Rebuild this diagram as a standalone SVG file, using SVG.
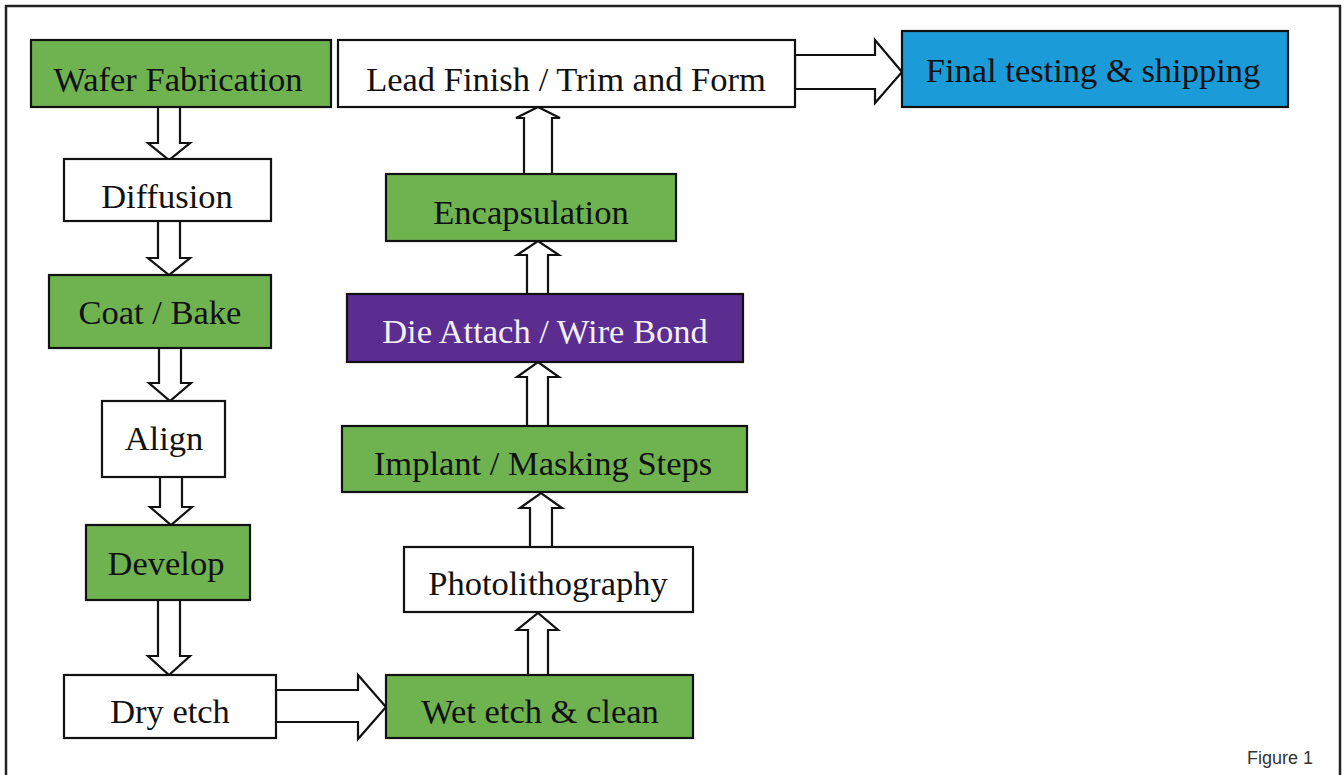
<svg xmlns="http://www.w3.org/2000/svg" width="1344" height="775" viewBox="0 0 1344 775">
  <style>
    .box{stroke:#111;stroke-width:2.2}
    .green{fill:#6fb351}
    .white{fill:#ffffff}
    .blue{fill:#1b9bd7}
    .purple{fill:#5c2d91}
    .lbl{font-family:"Liberation Serif","Times New Roman",serif;font-size:34.5px;fill:#111;text-anchor:middle}
    .lbl-w{fill:#f4f0f8}
    .arrow{fill:#ffffff;stroke:#111;stroke-width:2.2;stroke-linejoin:miter}
    .cap{font-family:"Liberation Sans",Arial,sans-serif;font-size:18px;fill:#333;text-anchor:end}
  </style>
  <rect x="0" y="0" width="1344" height="775" fill="#ffffff"/>
  <rect id="frame" x="6" y="6" width="1334" height="820" fill="none" stroke="#222" stroke-width="2.5"/>

  <g id="connectors">
    <!-- left column, downward -->
    <polygon class="arrow" points="158,107 180,107 180,143 190,143 169,160 148,143 158,143 158,107"/>
    <polygon class="arrow" points="158,221 180,221 180,258 190,258 169,275 148,258 158,258 158,221"/>
    <polygon class="arrow" points="159,348 181,348 181,383 191,383 170,401 149,383 159,383 159,348"/>
    <polygon class="arrow" points="160,477 182,477 182,507 192,507 171,525 150,507 160,507 160,477"/>
    <polygon class="arrow" points="158,600 180,600 180,656 190,656 169,675 148,656 158,656 158,600"/>
    <!-- Dry etch -> Wet etch -->
    <polygon class="arrow" points="276,690 358,690 358,675 386,707 358,739 358,722 276,722 276,690"/>
    <!-- middle column, upward -->
    <polygon class="arrow" points="528,675 548,675 548,630 558,630 538,613 517,630 528,630 528,675"/>
    <polygon class="arrow" points="530,547 552,547 552,508 562,508 541,493 520,508 530,508 530,547"/>
    <polygon class="arrow" points="527,426 548,426 548,377 559,377 538,362 517,377 527,377 527,426"/>
    <polygon class="arrow" points="527,294 548,294 548,255 559,255 538,241 517,255 527,255 527,294"/>
    <polygon class="arrow" points="524,174 552,174 552,118 560,118 538,107 516,118 524,118 524,174"/>
    <!-- Lead finish -> Final testing -->
    <polygon class="arrow" points="795,55 875,55 875,40 902,72 875,103 875,89 795,89 795,55"/>
  </g>

  <g id="n-wafer">
    <rect class="box green" x="31" y="40" width="300" height="67"/>
    <text class="lbl" x="178" y="91">Wafer Fabrication</text>
  </g>
  <g id="n-lead">
    <rect class="box white" x="338" y="40" width="457" height="67"/>
    <text class="lbl" x="566" y="91">Lead Finish / Trim and Form</text>
  </g>
  <g id="n-final">
    <rect class="box blue" x="902" y="31" width="386" height="76"/>
    <text class="lbl" x="1093" y="82">Final testing &amp; shipping</text>
  </g>
  <g id="n-diffusion">
    <rect class="box white" x="64" y="159" width="207" height="62"/>
    <text class="lbl" x="167" y="208">Diffusion</text>
  </g>
  <g id="n-encapsulation">
    <rect class="box green" x="386" y="174" width="290" height="67"/>
    <text class="lbl" x="531" y="224">Encapsulation</text>
  </g>
  <g id="n-coat">
    <rect class="box green" x="49" y="275" width="222" height="73"/>
    <text class="lbl" x="160" y="324">Coat / Bake</text>
  </g>
  <g id="n-die">
    <rect class="box purple" x="347" y="294" width="396" height="68"/>
    <text class="lbl lbl-w" x="545" y="343">Die Attach / Wire Bond</text>
  </g>
  <g id="n-align">
    <rect class="box white" x="102" y="401" width="123" height="76"/>
    <text class="lbl" x="164" y="450">Align</text>
  </g>
  <g id="n-implant">
    <rect class="box green" x="342" y="426" width="405" height="66"/>
    <text class="lbl" x="543" y="475">Implant / Masking Steps</text>
  </g>
  <g id="n-develop">
    <rect class="box green" x="86" y="525" width="164" height="75"/>
    <text class="lbl" x="166" y="575">Develop</text>
  </g>
  <g id="n-photo">
    <rect class="box white" x="404" y="547" width="289" height="65"/>
    <text class="lbl" x="548" y="595">Photolithography</text>
  </g>
  <g id="n-dry">
    <rect class="box white" x="64" y="675" width="212" height="63"/>
    <text class="lbl" x="170" y="723">Dry etch</text>
  </g>
  <g id="n-wet">
    <rect class="box green" x="386" y="675" width="307" height="63"/>
    <text class="lbl" x="540" y="723">Wet etch &amp; clean</text>
  </g>

  <text class="cap" x="1313" y="764">Figure 1</text>
</svg>
